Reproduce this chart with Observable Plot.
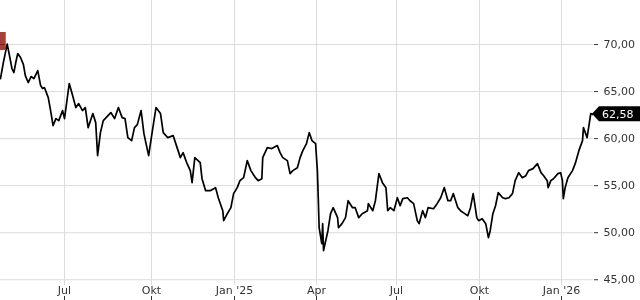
<!DOCTYPE html>
<html>
<head>
<meta charset="utf-8">
<script src="https://cdn.jsdelivr.net/npm/d3@7"></script>
<script src="https://cdn.jsdelivr.net/npm/@observablehq/plot@0.6"></script>
<style>
  html, body { margin: 0; padding: 0; background: #fff; }
  #chart { width: 640px; height: 300px; }
</style>
</head>
<body>
<div id="chart"></div>
<script>
const dates = [
"2024-04-25","2024-04-28","2024-05-02","2024-05-04","2024-05-07","2024-05-09","2024-05-11","2024-05-13","2024-05-16","2024-05-19",
"2024-05-21","2024-05-24","2024-05-27","2024-05-30","2024-06-03","2024-06-06","2024-06-08","2024-06-10","2024-06-14","2024-06-17",
"2024-06-19","2024-06-22","2024-06-25","2024-06-29","2024-07-01","2024-07-04","2024-07-06","2024-07-09","2024-07-13","2024-07-16",
"2024-07-20","2024-07-23","2024-07-26","2024-07-31","2024-08-03","2024-08-05","2024-08-08","2024-08-11","2024-08-16","2024-08-19",
"2024-08-23","2024-08-27","2024-08-31","2024-09-03","2024-09-06","2024-09-10","2024-09-13","2024-09-16","2024-09-20","2024-09-23",
"2024-09-25","2024-09-28","2024-10-02","2024-10-06","2024-10-11","2024-10-14","2024-10-19","2024-10-25","2024-10-29","2024-11-02",
"2024-11-05","2024-11-09","2024-11-13","2024-11-15","2024-11-18","2024-11-24","2024-11-26","2024-11-30","2024-12-05","2024-12-11",
"2024-12-14","2024-12-19","2024-12-20","2024-12-24","2024-12-28","2024-12-31","2025-01-04","2025-01-07","2025-01-11","2025-01-15",
"2025-01-19","2025-01-24","2025-01-27","2025-01-31","2025-02-01","2025-02-06","2025-02-11","2025-02-17","2025-02-20","2025-02-23",
"2025-02-28","2025-03-03","2025-03-06","2025-03-11","2025-03-14","2025-03-17","2025-03-21","2025-03-24","2025-03-27","2025-03-31",
"2025-04-02","2025-04-03","2025-04-04","2025-04-07","2025-04-08","2025-04-09","2025-04-14","2025-04-17","2025-04-20","2025-04-25",
"2025-04-26","2025-04-30","2025-05-04","2025-05-07","2025-05-12","2025-05-15","2025-05-19","2025-05-23","2025-05-29","2025-05-30",
"2025-06-04","2025-06-07","2025-06-11","2025-06-15","2025-06-19","2025-06-21","2025-06-24","2025-06-28","2025-07-02","2025-07-05",
"2025-07-08","2025-07-13","2025-07-16","2025-07-20","2025-07-24","2025-07-26","2025-07-30","2025-08-02","2025-08-05","2025-08-11",
"2025-08-15","2025-08-19","2025-08-23","2025-08-27","2025-08-30","2025-09-02","2025-09-07","2025-09-10","2025-09-13","2025-09-18",
"2025-09-21","2025-09-24","2025-09-28","2025-09-30","2025-10-04","2025-10-08","2025-10-11","2025-10-13","2025-10-16","2025-10-19",
"2025-10-22","2025-10-27","2025-10-30","2025-11-03","2025-11-07","2025-11-10","2025-11-14","2025-11-18","2025-11-22","2025-11-25",
"2025-11-30","2025-12-03","2025-12-05","2025-12-09","2025-12-12","2025-12-16","2025-12-17","2025-12-20","2025-12-23","2025-12-28",
"2025-12-31","2026-01-02","2026-01-03","2026-01-05","2026-01-08","2026-01-13","2026-01-16","2026-01-20","2026-01-24","2026-01-25",
"2026-01-29","2026-01-31","2026-02-02","2026-02-04"
];
const values = [
66.38,68.09,70.05,69.04,67.45,67.02,68.09,69.04,68.62,67.87,
66.70,65.96,66.60,66.38,67.23,65.64,65.32,65.43,64.36,62.66,
61.38,62.13,61.91,62.98,62.13,64.36,65.85,64.79,63.30,63.72,
62.98,63.30,61.17,62.66,61.70,58.19,60.64,61.91,62.45,62.77,
62.13,63.30,62.23,62.13,60.11,59.79,61.17,61.49,62.98,60.53,
59.57,58.19,60.85,63.30,62.66,60.64,60.11,60.32,59.15,57.98,
58.51,57.45,56.60,55.32,57.98,57.45,55.74,54.47,54.47,54.79,
53.72,52.34,51.28,52.02,52.66,54.15,54.79,55.53,55.85,57.66,
56.60,55.85,55.53,55.74,57.98,59.04,58.94,59.26,58.51,57.98,
57.66,56.28,56.60,56.91,57.98,58.72,59.47,60.64,59.79,59.47,
56.60,53.72,50.53,48.83,50.96,48.09,50.21,52.02,52.66,51.60,
50.53,50.96,51.60,53.40,52.66,52.66,51.60,52.02,52.34,53.09,
52.34,53.40,56.28,55.32,54.79,52.34,52.66,52.34,53.72,52.87,
53.62,53.72,53.40,53.09,51.28,50.96,52.34,51.60,52.66,52.55,
53.09,53.72,54.79,53.40,53.40,54.15,52.66,52.34,52.13,51.81,
52.66,54.15,51.60,51.28,51.49,50.96,49.47,50.21,52.02,52.87,
54.26,53.72,53.62,53.72,54.15,55.53,56.38,55.85,56.06,56.60,
56.81,57.13,57.34,56.38,56.06,55.53,54.79,55.53,55.74,56.28,
56.38,55.53,53.62,54.79,55.85,56.60,57.34,58.72,59.79,61.17,
60.11,61.38,62.66,62.58
];

// axis ticks
const xTickDates = ["2024-07-01","2024-10-01","2025-01-01","2025-04-01","2025-07-01","2025-10-01","2026-01-01"];
const xTickLabels = ["Jul","Okt","Jan '25","Apr","Jul","Okt","Jan '26"];
const yTicks = [45, 50, 55, 60, 65, 70];

// event marker at the start of the series
const markerStart = ["2024-04-18"];
const markerEnd = ["2024-05-01"];
const markerLow = [69.36];
const markerHigh = [71.28];

const de = d3.formatLocale({decimal: ",", thousands: ".", grouping: [3], currency: ["", " €"]});
const fmt = de.format(".2f");

const series = dates.map((d, i) => ({date: new Date(d), value: values[i]}));
const ticks = xTickDates.map((d, i) => ({date: new Date(d), label: xTickLabels[i]}));
const markers = markerStart.map((d, i) => ({x1: new Date(d), x2: new Date(markerEnd[i]), y1: markerLow[i], y2: markerHigh[i]}));
const last = series[series.length - 1];

const chart = Plot.plot({
  width: 640,
  height: 300,
  marginLeft: 0,
  marginRight: 47,
  marginTop: 0,
  marginBottom: 4,
  style: {fontFamily: "DejaVu Sans, sans-serif", fontSize: "11px", color: "#333", background: "white"},
  x: {
    type: "utc",
    domain: [new Date("2024-04-25"), ...ticks.map(t => t.date), new Date("2026-02-05")],
    range: [0, 64, 151, 234, 316, 396, 479, 561, 593],
    axis: null
  },
  y: {domain: [43.22, 74.68], axis: null},
  marks: [
    Plot.frame({fill: "white", stroke: null}),
    Plot.gridY(yTicks, {stroke: "#dcdcdc", strokeOpacity: 1}),
    Plot.gridX(ticks, {x: "date", stroke: "#dcdcdc", strokeOpacity: 1, insetBottom: 11}),
    Plot.axisY(yTicks, {anchor: "right", tickSize: 4, tickPadding: 6, tickFormat: fmt, fill: "#333", stroke: "#333"}),
    Plot.axisX(ticks.map(t => t.date), {anchor: "bottom", tickSize: 4, tickFormat: () => "", stroke: "#333"}),
    Plot.text(ticks, {x: "date", text: "label", frameAnchor: "bottom", lineAnchor: "middle", dy: -6, fill: "#333"}),
    Plot.line(series, {x: "date", y: "value", stroke: "black", strokeWidth: 1.7, clip: true}),
    Plot.rect(markers, {x1: "x1", x2: "x2", y1: "y1", y2: "y2", fill: "#5cbfc5", mixBlendMode: "difference"}),
    (index, scales, values, dims) => {
      const cy = scales.y(last.value);
      const tip = dims.width - dims.marginRight - 1;
      const g = d3.create("svg:g");
      g.append("path")
        .attr("d", `M${tip},${cy} L${tip + 7},${cy - 7.5} H${dims.width} V${cy + 7.5} H${tip + 7} Z`)
        .attr("fill", "black");
      g.append("text")
        .attr("x", tip + 10)
        .attr("y", cy)
        .attr("dy", "0.35em")
        .attr("text-anchor", "start")
        .attr("fill", "white")
        .attr("font-size", 11)
        .text(fmt(last.value));
      return g.node();
    }
  ]
});
document.getElementById("chart").append(chart);
</script>
</body>
</html>
